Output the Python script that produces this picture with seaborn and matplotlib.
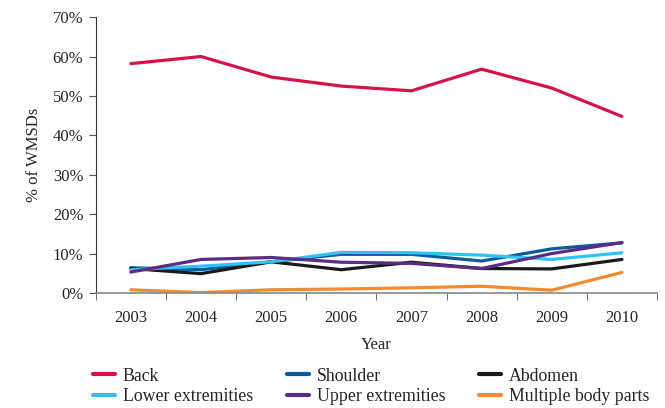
import pandas as pd
import numpy as np
import matplotlib
matplotlib.use("Agg")
import matplotlib.pyplot as plt
import seaborn as sns
from matplotlib.ticker import FixedLocator, PercentFormatter

years = ["2003", "2004", "2005", "2006", "2007", "2008", "2009", "2010"]
back = [58.2, 60.0, 54.8, 52.5, 51.3, 56.8, 52.0, 44.8]
shoulder = [6.4, 5.9, 7.9, 9.8, 9.8, 8.1, 11.2, 12.7]
abdomen = [6.2, 4.9, 7.9, 5.9, 7.8, 6.2, 6.1, 8.5]
lower_ext = [5.9, 6.8, 7.9, 10.3, 10.2, 9.6, 8.5, 10.2]
upper_ext = [5.3, 8.5, 9.0, 7.8, 7.5, 6.2, 10.0, 12.8]
multiple = [0.8, 0.1, 0.8, 1.0, 1.3, 1.7, 0.7, 5.2]

series = {
    "Back": back,
    "Shoulder": shoulder,
    "Abdomen": abdomen,
    "Lower extremities": lower_ext,
    "Upper extremities": upper_ext,
    "Multiple body parts": multiple,
}
colors = ["#d5134a", "#0b5a9c", "#1a1a1a", "#2ec3f2", "#5a2d82", "#f58a2f"]

rows = []
for name, vals in series.items():
    for i, v in enumerate(vals):
        rows.append({"Year": i, "Part": name, "Value": v})
df = pd.DataFrame(rows)

sns.set_style("ticks")
plt.rcParams['font.family'] = ['Liberation Serif', 'DejaVu Serif']

fig = plt.figure(figsize=(6.65, 4.08), dpi=100)
ax = fig.add_axes([0.144, 0.282, 0.844, 0.676])

sns.lineplot(data=df, x="Year", y="Value", hue="Part", palette=colors,
             linewidth=2.3, ax=ax, legend=True)

ax.set_xlim(-0.5, 7.5)
ax.set_ylim(0, 70)
ax.yaxis.set_major_locator(FixedLocator(np.arange(0, 71, 10)))
ax.yaxis.set_major_formatter(PercentFormatter(decimals=0))
ax.set_xticks(range(len(years)))
ax.set_xticklabels(years)
ax.xaxis.set_minor_locator(FixedLocator(np.arange(-0.5, 8, 1)))
ax.tick_params(axis="x", which="major", length=0, pad=12, labelsize=12)
ax.tick_params(axis="x", which="minor", length=5, color="#555555", direction="out")
ax.tick_params(axis="y", length=5, color="#555555", labelsize=12, pad=4)

sns.despine(ax=ax)
ax.spines["left"].set_color("#333333")
ax.spines["bottom"].set_color("#888888")
ax.spines["bottom"].set_linewidth(1.2)

ax.set_xlabel("Year", fontsize=12, labelpad=8)
ax.set_ylabel("% of WMSDs", fontsize=12, labelpad=8)

# legend is filled column by column, so reorder to read row-wise
handles, labels = ax.get_legend_handles_labels()
order = [0, 3, 1, 4, 2, 5]
leg = ax.legend([handles[i] for i in order], [labels[i] for i in order],
                ncol=3, frameon=False, fontsize=12.8,
                loc="upper left", bbox_to_anchor=(-0.018, -0.245),
                handlelength=1.24, columnspacing=1.9, handletextpad=0.45,
                labelspacing=0.2, borderaxespad=0)
for h in leg.legend_handles:
    h.set_linewidth(3)

fig.savefig("out.png", dpi=100)
